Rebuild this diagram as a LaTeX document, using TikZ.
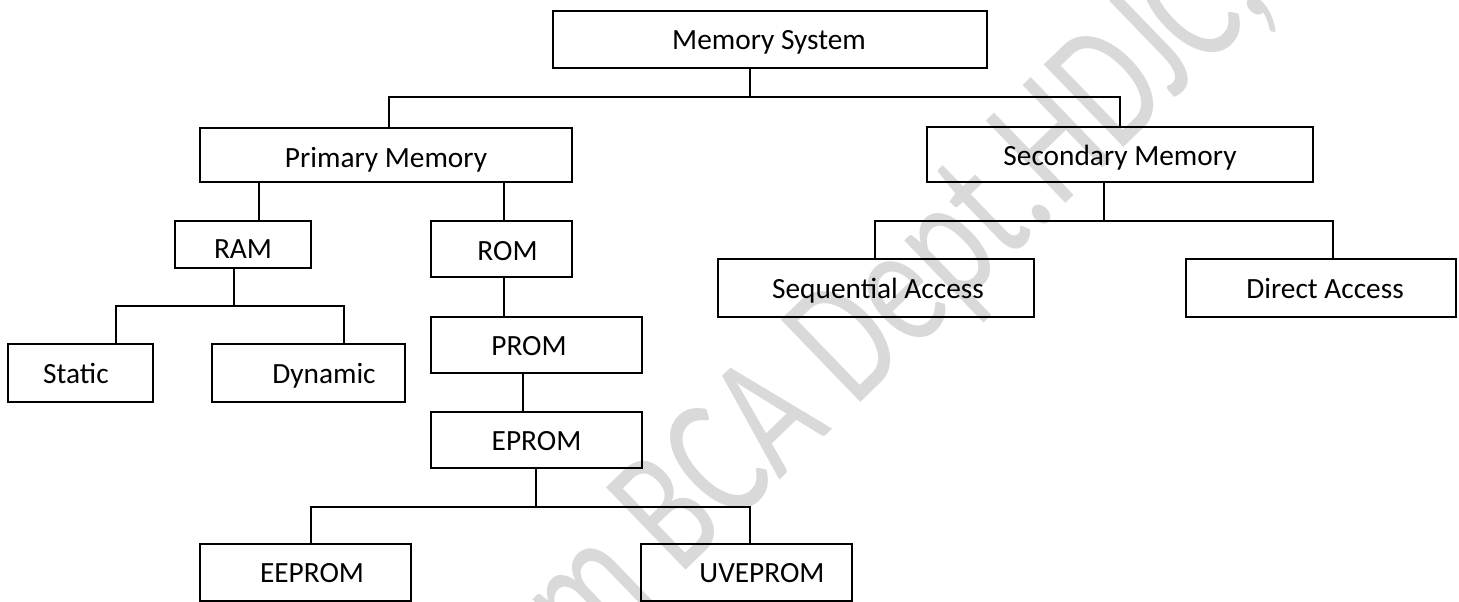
\documentclass[tikz,border=0pt]{standalone}
\usepackage{fontspec}
\setmainfont{Carlito}
\definecolor{wmgray}{HTML}{D9D9D9}
\tikzset{
  box/.style={draw, line width=1.3pt, inner sep=0pt, fill=none},
  lbl/.style={inner sep=0pt, text height=14pt, text depth=0pt,
              font=\fontsize{22}{24}\selectfont},
  link/.style={line width=1.1pt},
  wm/.style={text=wmgray, inner sep=0pt, font=\fontsize{134}{138}\selectfont}
}
\begin{document}
\begin{tikzpicture}[x=0.75pt, y=-0.75pt]
\useasboundingbox (0,0) rectangle (1459,602);

% faint watermark behind the chart
\begin{scope}
  \clip (0,0) rectangle (1459,602);
  \node[wm, anchor=base west, rotate=44, xscale=0.72] (mark) at (585,668) {m BCA Dept.HDJC,A};
\end{scope}

% boxes
\node[box, minimum width=325.5pt, minimum height=42.75pt,
      label={[lbl, xshift=-0.75pt, yshift=-0.8pt]center:Memory System}] (ms) at (770,39.5) {};
\node[box, minimum width=279pt, minimum height=40.5pt,
      label={[lbl, yshift=-2.6pt]center:Primary Memory}] (pm) at (386,155) {};
\node[box, minimum width=289.5pt, minimum height=41.25pt,
      label={[lbl, yshift=-1.1pt]center:Secondary Memory}] (sm) at (1120,154.5) {};
\node[box, minimum width=102pt, minimum height=35.25pt,
      label={[lbl, yshift=-3.75pt]center:RAM}] (ram) at (243,244.5) {};
\node[box, minimum width=105.75pt, minimum height=42pt,
      label={[lbl, xshift=4.5pt, yshift=-1.9pt]center:ROM}] (rom) at (501.5,249) {};
\node[box, minimum width=108.75pt, minimum height=43.5pt,
      label={[lbl, xshift=-3.4pt, yshift=-0.8pt]center:Static}] (st) at (80.5,373) {};
\node[box, minimum width=144.75pt, minimum height=43.5pt,
      label={[lbl, xshift=11.6pt, yshift=-0.8pt]center:Dynamic}] (dy) at (308.5,373) {};
\node[box, minimum width=158.25pt, minimum height=42pt,
      label={[lbl, xshift=-5.6pt, yshift=-0.8pt]center:PROM}] (prom) at (536.5,345) {};
\node[box, minimum width=158.25pt, minimum height=42pt,
      label={[lbl, yshift=-0.8pt]center:EPROM}] (eprom) at (536.5,440) {};
\node[box, minimum width=158.25pt, minimum height=42.75pt,
      label={[lbl, xshift=4.9pt, yshift=-0.8pt]center:EEPROM}] (eep) at (305.5,572.5) {};
\node[box, minimum width=158.25pt, minimum height=42.75pt,
      label={[lbl, xshift=11.6pt, yshift=-0.8pt]center:UVEPROM}] (uvep) at (746.5,572.5) {};
\node[box, minimum width=237pt, minimum height=43.5pt,
      label={[lbl, xshift=1.5pt, yshift=-0.8pt]center:Sequential Access}] (seq) at (876,288) {};
\node[box, minimum width=202.5pt, minimum height=43.5pt,
      label={[lbl, xshift=3pt, yshift=-0.8pt]center:Direct Access}] (dir) at (1321,288) {};

% branch points
\coordinate (j0) at (750,97);
\coordinate (j1) at (234,306);
\coordinate (j2) at (536,507);
\coordinate (j3) at (1104,221);

% Memory System -> Primary / Secondary
\draw[link] (j0 |- ms.south) -- (j0);
\draw[link] ([xshift=2.25pt]pm.north) |- (j0) -| (sm.north);

% Primary -> RAM / ROM
\draw[link] ([xshift=12pt]ram.north) -- ([xshift=12pt]ram.north |- pm.south);
\draw[link] ([xshift=1.9pt]rom.north) -- ([xshift=1.9pt]rom.north |- pm.south);

% RAM -> Static / Dynamic
\draw[link] (j1 |- ram.south) -- (j1);
\draw[link] ([xshift=26.6pt]st.north) |- (j1) -| ([xshift=26.6pt]dy.north);

% ROM -> PROM -> EPROM
\draw[link] ([xshift=1.9pt]rom.south) -- ([xshift=1.9pt]rom.south |- prom.north);
\draw[link] ([xshift=-10.1pt]prom.south) -- ([xshift=-10.1pt]prom.south |- eprom.north);

% EPROM -> EEPROM / UVEPROM
\draw[link] (j2 |- eprom.south) -- (j2);
\draw[link] ([xshift=4.1pt]eep.north) |- (j2) -| ([xshift=2.6pt]uvep.north);

% Secondary -> Sequential / Direct
\draw[link] (j3 |- sm.south) -- (j3);
\draw[link] ([xshift=-0.75pt]seq.north) |- (j3) -| ([xshift=9pt]dir.north);
\end{tikzpicture}
\end{document}
